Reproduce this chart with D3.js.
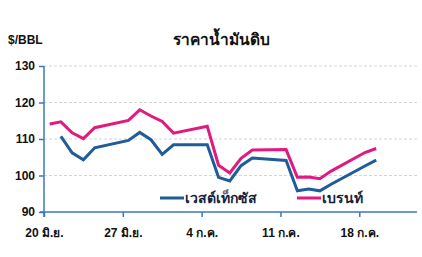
<!DOCTYPE html>
<html>
<head>
<meta charset="utf-8">
<script src="https://cdn.jsdelivr.net/npm/d3@7"></script>
<style>
  body { margin: 0; background: #fff; }
  svg { display: block; font-family: "Noto Sans", "DejaVu Sans", sans-serif; }
  .latin { font-family: "Liberation Sans", Arial, sans-serif; }
</style>
</head>
<body>
<div id="chart"></div>
<script>
const titleText = 'ราคาน้ำมันดิบ';
const unitText = '$/BBL';

// trading days (points plotted at midday)
const brentDates = ['2022-06-20', '2022-06-21', '2022-06-22', '2022-06-23', '2022-06-24',
  '2022-06-27', '2022-06-28', '2022-06-29', '2022-06-30', '2022-07-01',
  '2022-07-04', '2022-07-05', '2022-07-06', '2022-07-07', '2022-07-08',
  '2022-07-11', '2022-07-12', '2022-07-13', '2022-07-14', '2022-07-15',
  '2022-07-18', '2022-07-19'];
const brentValues = [114.1, 114.7, 111.7, 110.1, 113.1,
  115.1, 118.0, 116.3, 114.8, 111.6,
  113.5, 102.8, 100.7, 104.7, 107.0,
  107.1, 99.5, 99.6, 99.1, 101.2,
  106.3, 107.4];

const wtiDates = brentDates.slice(1);
const wtiValues = [110.7, 106.2, 104.3, 107.6,
  109.6, 111.8, 109.8, 105.8, 108.4,
  108.4, 99.5, 98.5, 102.7, 104.8,
  104.1, 95.8, 96.3, 95.8, 97.6,
  102.6, 104.2];

const yTicks = [90, 100, 110, 120, 130];
const xTickDates = ['2022-06-20', '2022-06-27', '2022-07-04', '2022-07-11', '2022-07-18'];
const xTickLabels = ['20 มิ.ย.', '27 มิ.ย.', '4 ก.ค.', '11 ก.ค.', '18 ก.ค.'];

const seriesNames = ['เวสต์เท็กซัส', 'เบรนท์'];
const seriesColors = ['#1f5c99', '#e2197f'];

const width = 422;
const height = 257;
const margin = { top: 66, right: 5, bottom: 45, left: 44 };
const axisColor = '#3a78bd';

const parse = d3.timeParse('%Y-%m-%d');
const midday = (s) => d3.timeHour.offset(parse(s), 12);

const svg = d3.select('#chart')
  .append('svg')
  .attr('width', width)
  .attr('height', height);

const xScale = d3.scaleTime()
  .domain([parse('2022-06-20'), d3.timeHour.offset(parse('2022-07-23'), 3)])
  .range([margin.left, width - margin.right]);

const yScale = d3.scaleLinear()
  .domain([90, 130])
  .range([height - margin.bottom, margin.top]);

// gridlines
svg.append('g')
  .selectAll('line')
  .data(yTicks.slice(1))
  .join('line')
  .attr('x1', margin.left)
  .attr('x2', width - margin.right)
  .attr('y1', (d) => yScale(d))
  .attr('y2', (d) => yScale(d))
  .attr('stroke', '#d4d4d4')
  .attr('stroke-width', 1)
  .attr('stroke-dasharray', '3,2');

// y axis
const yAxis = svg.append('g')
  .attr('transform', `translate(${margin.left},0)`)
  .call(d3.axisLeft(yScale).tickValues(yTicks).tickSize(5).tickPadding(4).tickSizeOuter(0));
yAxis.select('.domain').remove();
yAxis.append('line')
  .attr('x1', 0).attr('x2', 0)
  .attr('y1', yScale(130)).attr('y2', yScale(90) + 5)
  .attr('stroke', axisColor).attr('stroke-width', 1.5);
yAxis.selectAll('.tick line').attr('stroke', axisColor).attr('stroke-width', 1.5);
yAxis.selectAll('.tick text')
  .attr('class', 'latin')
  .attr('fill', '#111')
  .attr('font-size', 12)
  .attr('font-weight', 'bold');

// x axis
const xAxis = svg.append('g')
  .attr('transform', `translate(0,${yScale(90)})`)
  .call(d3.axisBottom(xScale)
    .tickValues(xTickDates.map(parse))
    .tickFormat((d, i) => xTickLabels[i])
    .tickSize(5)
    .tickPadding(11)
    .tickSizeOuter(0));
xAxis.select('.domain')
  .attr('d', `M${margin.left - 4},0H${width - margin.right}`)
  .attr('stroke', axisColor).attr('stroke-width', 1.5);
xAxis.selectAll('.tick line').attr('stroke', axisColor).attr('stroke-width', 1.5);
xAxis.selectAll('.tick text')
  .attr('fill', '#111')
  .attr('font-size', 12)
  .attr('font-weight', 'bold');

// lines
const line = d3.line()
  .x((d) => xScale(d.date))
  .y((d) => yScale(d.value));

const series = [
  wtiDates.map((d, i) => ({ date: midday(d), value: wtiValues[i] })),
  brentDates.map((d, i) => ({ date: midday(d), value: brentValues[i] })),
];

svg.append('g')
  .selectAll('path')
  .data(series)
  .join('path')
  .attr('d', line)
  .attr('fill', 'none')
  .attr('stroke', (d, i) => seriesColors[i])
  .attr('stroke-width', 3)
  .attr('stroke-linejoin', 'miter');

// legend
const legendX = [160, 297];
const legend = svg.append('g')
  .selectAll('g')
  .data(seriesNames)
  .join('g')
  .attr('transform', (d, i) => `translate(${legendX[i]},198)`);
legend.append('line')
  .attr('x1', 0).attr('x2', 24)
  .attr('stroke', (d, i) => seriesColors[i])
  .attr('stroke-width', 3);
legend.append('text')
  .attr('x', 25)
  .attr('dy', '0.35em')
  .attr('font-size', 14)
  .attr('font-weight', 'bold')
  .attr('fill', '#14233c')
  .text((d) => d);

// title + unit
svg.append('text')
  .attr('x', 221)
  .attr('y', 40)
  .attr('dy', '0.35em')
  .attr('text-anchor', 'middle')
  .attr('font-size', 15.5)
  .attr('font-weight', 'bold')
  .attr('fill', '#111')
  .text(titleText);

svg.append('text')
  .attr('class', 'latin')
  .attr('x', 8)
  .attr('y', 40)
  .attr('dy', '0.35em')
  .attr('font-size', 12)
  .attr('font-weight', 'bold')
  .attr('fill', '#111')
  .text(unitText);
</script>
</body>
</html>
